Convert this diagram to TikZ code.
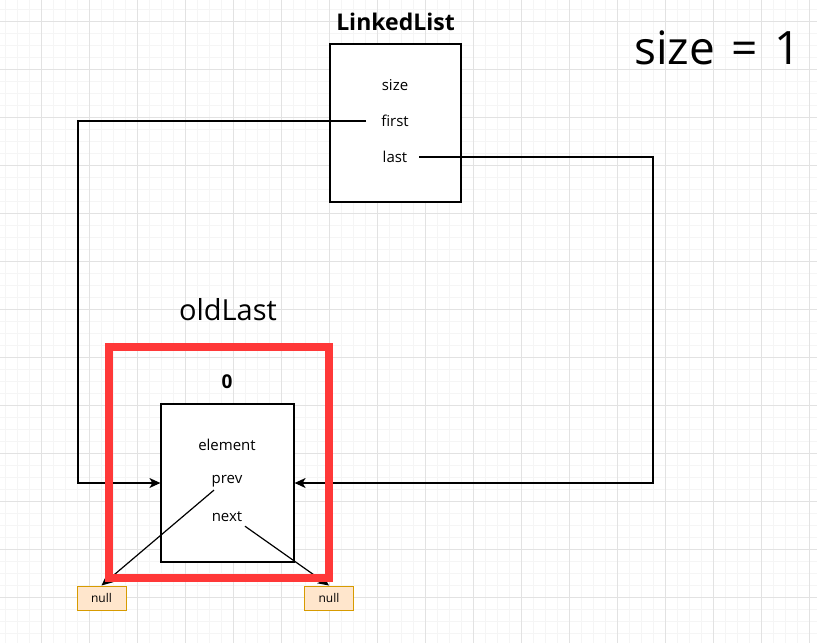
\documentclass[tikz,border=0pt]{standalone}
\usepackage{fontspec}
\setmainfont{Open Sans}
\usetikzlibrary{arrows.meta,calc}
\definecolor{gridminor}{HTML}{F5F5F5}
\definecolor{gridmajor}{HTML}{E2E2E2}
\definecolor{hlred}{HTML}{FF3838}
\definecolor{nullfill}{HTML}{FFE6CC}
\definecolor{nulldraw}{HTML}{D79B00}
\tikzset{
  objbox/.style={draw=black, fill=white, line width=1.2pt, minimum width=131pt, minimum height=158pt, inner sep=0pt},
  field/.style={font=\fontsize{15}{17}\selectfont, inner sep=0pt},
  title/.style={font=\fontsize{23}{26}\selectfont\bfseries, inner sep=0pt},
  nullbox/.style={draw=nulldraw, fill=nullfill, line width=1pt, minimum width=49pt, minimum height=24pt, inner sep=0pt, font=\fontsize{12}{14}\selectfont},
  conn/.style={draw=black, line width=1.2pt},
  arr/.style={conn, -{Stealth[length=11pt,width=10pt,inset=3pt]}},
  hl/.style={draw=hlred, line width=8pt}
}
\begin{document}
\begin{tikzpicture}[x=1pt,y=-1pt]
\useasboundingbox (0,0) rectangle (817,643);
\fill[white] (0,0) rectangle (817,643);
% grid
\foreach \x in {5,17,...,817} \draw[gridminor, line width=1pt] (\x,0) -- (\x,643);
\foreach \y in {9,21,...,643} \draw[gridminor, line width=1pt] (0,\y) -- (817,\y);
\foreach \x in {41,89,...,817} \draw[gridmajor, line width=1pt] (\x,0) -- (\x,643);
\foreach \y in {21,69,...,643} \draw[gridmajor, line width=1pt] (0,\y) -- (817,\y);

% LinkedList object
\node[title] (lltitle) at (395.5,22) {LinkedList};
\node[objbox] (ll) at (395.5,123) {};
\node[field] (fsize) at (395,85) {size};
\node[field] (ffirst) at (395,121) {first};
\node[field] (flast) at (395,157) {last};

% size label
\node[inner sep=0pt, font=\fontsize{46}{50}\selectfont] (sizelbl) at (717.5,48) {\spaceskip=0.36em size = 1};

% node 0
\node[inner sep=0pt, font=\fontsize{29}{32}\selectfont] (oldlast) at (228,310) {oldLast};
\node[title, font=\fontsize{19}{22}\selectfont\bfseries] (ntitle) at (227,382) {0};
\node[objbox, minimum width=133pt] (nd) at (227.5,483) {};
\node[field] (felem) at (227,445) {element};
\node[field] (fprev) at (227,481) {prev};
\node[field] (fnext) at (227,517) {next};

% null boxes
\node[nullbox] (nullL) at (101.5,598) {null};
\node[nullbox] (nullR) at (329,598) {null};

% connectors
\coordinate (fl) at (78,121);
\coordinate (lr) at (653,157);
\draw[arr] ($(ffirst.west)+(-15,0)$) -- (fl) |- (nd.west);
\draw[arr] ($(flast.east)+(12,0)$) -- (lr) |- (nd.east);
\draw[arr] ($(fprev.south)+(-13,3)$) -- (nullL.north);
\draw[arr] ($(fnext.south)+(18,4)$) -- (nullR.north);

% highlight
\draw[hl] (109,347) rectangle (329,578);
\end{tikzpicture}
\end{document}
